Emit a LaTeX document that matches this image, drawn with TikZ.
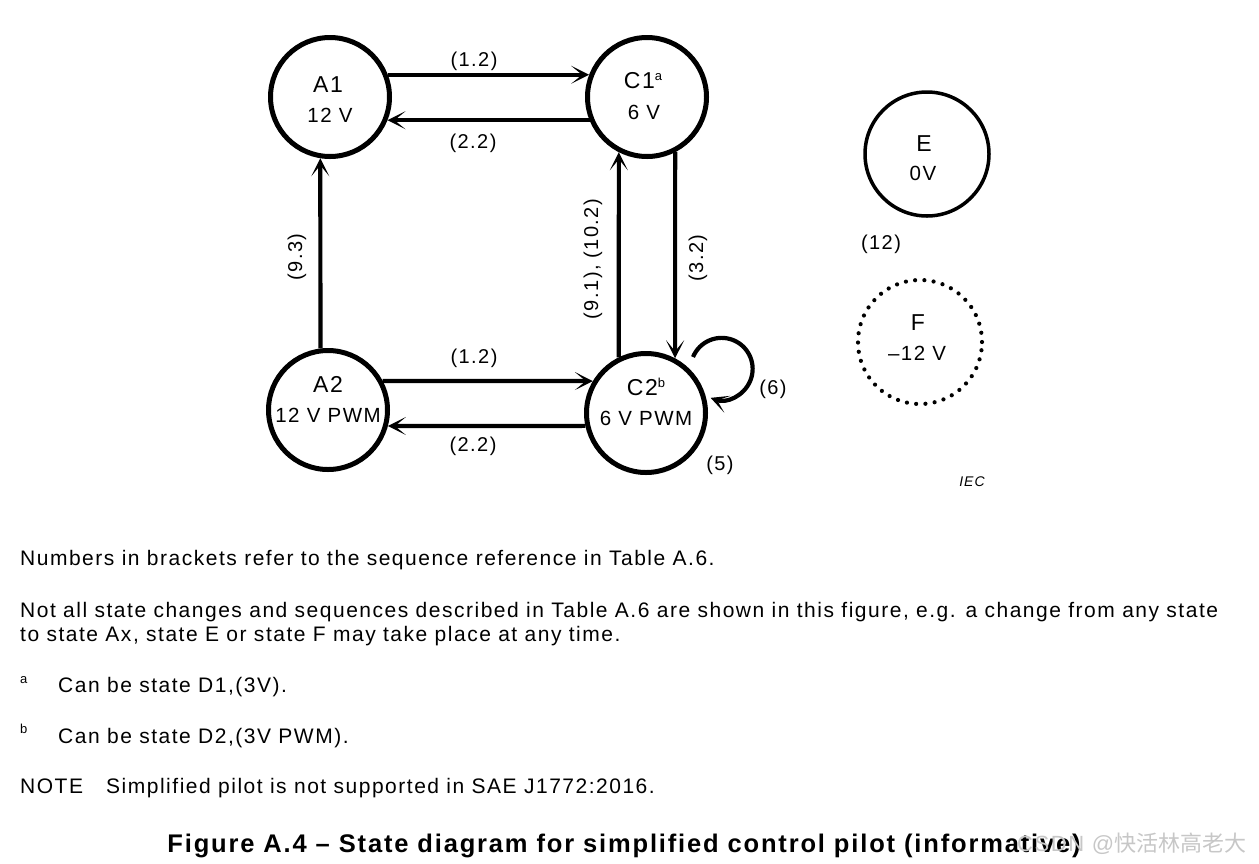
\documentclass[tikz,border=0pt]{standalone}
\usepackage{fontspec}
\setmainfont{Liberation Sans}[LetterSpace=7.2]
\newfontfamily\cjk{Noto Sans CJK SC}
\usetikzlibrary{arrows.meta}
\tikzset{
  state/.style={circle, draw, line width=5pt, minimum size=119pt, inner sep=0pt},
  stxt/.style={anchor=base, inner sep=0pt, font=\fontsize{20.5}{24}\selectfont},
  sname/.style={anchor=base, inner sep=0pt, font=\fontsize{23}{24}\selectfont},
  conn/.style={line width=4.2pt, -{Stealth[length=18pt,width=18pt,inset=11pt]}},
  lbl/.style={inner sep=0pt, font=\fontsize{20}{24}\selectfont},
  body/.style={anchor=base west, inner sep=0pt, font=\fontsize{21}{24}\selectfont},
  sup/.style={anchor=base west, inner sep=0pt, font=\fontsize{13}{14}\selectfont},
}
\newcommand{\sups}[1]{\raisebox{8pt}{\fontsize{13}{14}\selectfont #1}}
\begin{document}
\begin{tikzpicture}[x=1pt,y=-1pt]
\useasboundingbox (0,0) rectangle (1259,863);
\fill[white] (0,0) rectangle (1259,863);
% states
\node[state] (A1) at (330,97) {};
\node[state] (C1) at (647,97) {};
\node[state] (A2) at (328,410) {};
\node[state] (C2) at (646,413) {};
\node[state, line width=3.5pt, minimum size=124pt] (E) at (927,154) {};
\node[circle, minimum size=124pt, inner sep=0pt, draw, line width=4.2pt, line cap=round, dash pattern=on 0pt off 9.3pt] (F) at (920,342) {};
% state texts
\node[sname] (A1n) at (328,92) {A1};
\node[stxt] (A1v) at (330,122) {12 V};
\node[sname] (C1n) at (643,88) {C1\sups{a}};
\node[stxt] (C1v) at (644,119) {6 V};
\node[sname] (A2n) at (328,392) {A2};
\node[stxt] (A2v) at (328,422) {12 V PWM};
\node[sname] (C2n) at (646,395) {C2\sups{b}};
\node[stxt] (C2v) at (646,425) {6 V PWM};
\node[sname] (En) at (924,151) {E};
\node[stxt] (Ev) at (923,180) {0V};
\node[sname] (Fn) at (918,330) {F};
\node[stxt] (Fv) at (917,360) {\symbol{"2013}12 V};
% connectors
\draw[conn] (A1.21) -- (C1.159);
\draw[conn] (C1.202) -- (A1.-22);
\draw[conn] (A2.97) -- (A1.261);
\draw[conn] (C2.116) -- (C1.243);
\draw[conn] (C1.297) -- (C2.62);
\draw[conn] (A2.28) -- (C2.149);
\draw[conn] (C2.192) -- (A2.-15);
\coordinate (loopstart) at (693,357);
\draw[conn] (loopstart) arc[start angle=202.5, end angle=470.8, radius=31];
% labels
\node[lbl] (l1) at (474,61) {(1.2)};
\node[lbl] (l2) at (473,143) {(2.2)};
\node[lbl] (l3) at (474,358) {(1.2)};
\node[lbl] (l4) at (473,446) {(2.2)};
\node[lbl, rotate=90] (l5) at (297,257) {(9.3)};
\node[lbl, rotate=90] (l6) at (593,259) {(9.1), (10.2)};
\node[lbl, rotate=90] (l7) at (698,258) {(3.2)};
\node[lbl] (l8) at (773,389) {(6)};
\node[lbl] (l9) at (720,465) {(5)};
\node[lbl] (l10) at (881,244) {(12)};
\node[inner sep=0pt, font=\fontsize{14}{16}\selectfont\itshape] (iec) at (972,482) {IEC};
% body text
\node[body] (t1) at (20,565) {Numbers in brackets refer to the sequence reference in Table A.6.};
\node[body] (t2) at (20,617) {Not all state changes and sequences described in Table A.6 are shown in this figure, e.g. a change from any state};
\node[body] (t3) at (20,641) {to state Ax, state E or state F may take place at any time.};
\node[sup] (fa) at (20,683) {a};
\node[body] (t4) at (58,692) {Can be state D1,(3V).};
\node[sup] (fb) at (20,733) {b};
\node[body] (t5) at (58,743) {Can be state D2,(3V PWM).};
\node[body] (t6) at (20,793) {NOTE};
\node[body] (t7) at (106,793) {Simplified pilot is not supported in SAE J1772:2016.};
\node[anchor=base, inner sep=0pt, font=\fontsize{25.5}{28}\selectfont\bfseries] (cap) at (624,852) {Figure A.4 \symbol{"2013} State diagram for simplified control pilot (informative)};
\node[anchor=base west, inner sep=0pt, text=black!22, font=\fontsize{22}{24}\selectfont] (wm) at (1017,851) {CSDN @{\cjk 快活林高老大}};
\end{tikzpicture}
\end{document}
